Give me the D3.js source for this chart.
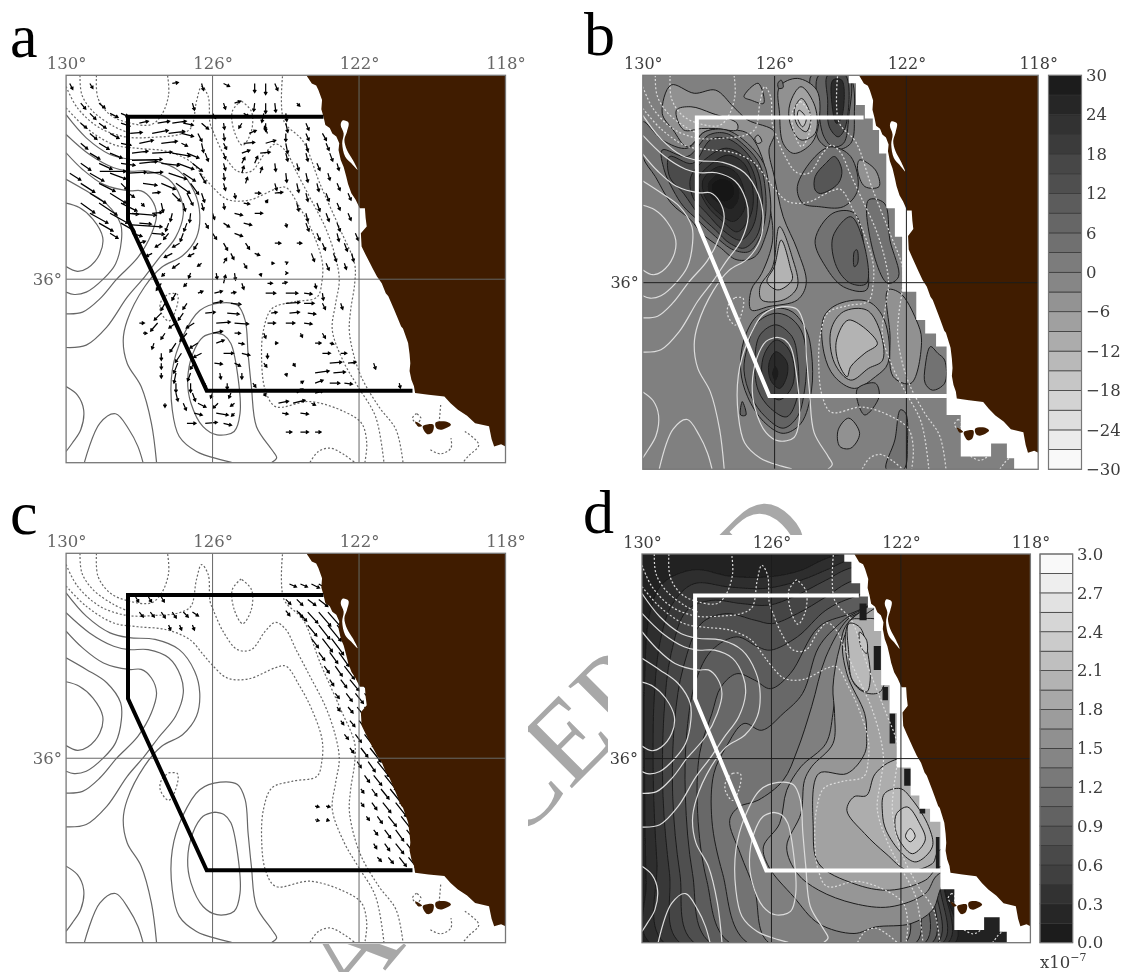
<!DOCTYPE html>
<html>
<head>
<meta charset="utf-8">
<script src="https://cdn.jsdelivr.net/npm/d3@7"></script>
<style>
  body { margin: 0; background: #fff; }
</style>
</head>
<body>
<div id="graph"></div>
<script>
var lonTicks = [130, 126, 122, 118];
var latTicks = [36];
var ticksB = [30, 24, 18, 12, 6, 0, -6, -12, -18, -24, -30];
var ticksD = [3.0, 2.7, 2.4, 2.1, 1.8, 1.5, 1.2, 0.9, 0.6, 0.3, 0.0];

// coast, bay, islands (lon, lat)
var coast = [[123.44,42],[123.29,41.76],[123.17,41.7],[123.11,41.57],[123.01,41.27],[123.03,41.0],[122.97,40.78],[122.92,40.54],[122.8,40.45],[122.73,40.29],[122.62,40.2],[122.54,40.0],[122.56,39.8],[122.5,39.51],[122.42,39.3],[122.35,39.02],[122.3,38.8],[122.21,38.53],[122.1,38.35],[121.98,38.09],[121.84,38.09],[121.82,37.8],[121.79,37.55],[121.95,37.35],[121.93,36.96],[121.82,36.72],[121.7,36.47],[121.62,36.3],[121.51,36.08],[121.38,35.88],[121.27,35.59],[121.2,35.5],[121.04,35.1],[120.98,34.95],[120.85,34.61],[120.8,34.55],[120.66,34.12],[120.62,33.8],[120.6,33.53],[120.62,33.3],[120.57,33.04],[120.5,32.85],[120.47,32.65],[120.1,32.6],[119.67,32.55],[119.5,32.35],[119.3,32.16],[119.05,31.98],[118.83,31.76],[118.45,31.67],[118.38,31.3],[118.31,31.08],[118.12,31.14],[118,31.08],[118,42]];
var bay = [[122.45,40.67],[122.29,40.61],[122.33,40.34],[122.4,40.1],[122.33,39.8],[122.17,39.51],[122.04,39.22],[122.21,39.41],[122.38,39.61],[122.46,40.0],[122.42,40.29],[122.5,40.54]];
var islands = [
  [[120.47,31.81],[120.28,31.69],[120.38,31.66]],
  [[120.26,31.67],[119.97,31.72],[120.0,31.49],[120.14,31.44]],
  [[119.91,31.78],[119.63,31.81],[119.49,31.72],[119.77,31.57],[119.89,31.62]]
];
// study box, it stops at the coast in a and c and at the mask in b and d
var regionLine = [[122.97,40.78],[128.31,40.78],[128.31,37.75],[126.16,32.72],[120.54,32.72]];
var regionMasked = [[123.3,40.78],[128.36,40.78],[128.36,37.75],[126.16,32.72],[120.77,32.72]];
// masked model cells next to the coast in the gray panels
var maskCells = [[123.75,42],[123.75,41.77],[123.53,41.77],[123.53,41.14],[123.26,41.14],[123.26,40.75],[123.02,40.75],[123.02,40.42],[122.83,40.42],[122.83,39.74],[122.61,39.74],[122.61,38.15],[122.35,38.15],[122.35,37.33],[122.13,37.33],[122.13,35.74],[121.7,35.74],[121.7,34.92],[121.43,34.92],[121.43,34.53],[121.1,34.53],[121.1,34.15],[120.78,34.15],[120.78,32.17],[120.35,32.17],[120.35,30.97],[119.43,30.97],[119.43,31.35],[118.95,31.35],[118.95,30.92],[118.73,30.92],[118.73,30.6],[118,30.6],[118,42]];

// SST style contours, the same in all four panels
var solidContours = [
  [[130,38.24],[129.64,38.11],[129.27,37.77],[129.0,37.23],[129.08,36.74],[129.41,36.33],[129.69,36.23],[130,36.37]],
  [[130,38.94],[129.45,38.6],[128.89,38.21],[128.51,37.62],[128.49,37.13],[128.65,36.45],[128.98,36.01],[129.45,35.62],[129.78,35.55],[130,35.62]],
  [[130,39.72],[129.55,39.23],[128.98,38.79],[128.28,38.6],[127.95,38.6],[127.67,38.35],[127.53,37.91],[127.67,37.33],[128.04,36.64],[128.61,36.01],[129.08,35.42],[129.55,35.03],[130,34.98]],
  [[130,40.26],[129.36,39.67],[128.7,39.28],[128.28,39.18],[127.76,39.18],[127.2,38.94],[126.87,38.4],[126.8,37.91],[127.01,37.23],[127.48,36.6],[127.86,36.06],[128.33,35.47],[128.89,34.59],[129.45,34.06],[130,33.99]],
  [[130,40.84],[129.45,40.16],[128.8,39.67],[128.28,39.53],[127.57,39.48],[126.91,39.18],[126.49,38.55],[126.35,37.91],[126.44,37.23],[126.82,36.69],[127.39,36.35],[127.86,35.77],[128.33,34.79],[128.44,34.2],[128.33,33.52],[127.95,32.84],[127.67,31.76],[127.53,30.61]],
  [[125.93,34.42],[126.26,34.3],[126.54,33.81],[126.68,33.03],[126.59,32.35],[126.26,31.66],[125.88,31.42],[125.41,31.52],[125.25,32.05],[125.32,33.23],[125.5,34.11],[125.69,34.35],[125.93,34.42]],
  [[125.48,30.61],[125.79,30.69],[126.44,30.93],[126.91,31.37],[127.1,32.15],[127.1,33.32],[126.82,34.3],[126.35,35.08],[125.79,35.3],[125.32,35.23],[125.11,34.79],[125.03,33.81],[124.94,32.84],[124.8,31.66],[124.38,30.98],[124.25,30.74],[124.38,30.61]],
  [[130,32.84],[129.69,32.59],[129.52,32.15],[129.6,31.57],[129.83,31.18],[130,30.93]],
  [[129.5,30.61],[129.08,31.76],[128.65,32.04],[128.28,31.57],[128.04,31.08],[127.9,30.61]]
];
var dashedContours = [
  [[129.62,42],[129.57,41.43],[129.27,40.94],[128.7,40.5],[128.28,40.3]],
  [[129.17,42],[129.13,41.33],[128.8,40.84],[128.28,40.6],[127.67,40.55],[127.39,40.84],[127.2,41.43],[127.23,42]],
  [[130,41.67],[129.69,41.04],[129.08,40.45],[128.33,40.18],[127.57,40.18],[126.91,40.26],[126.59,40.45],[126.44,41.23],[126.3,41.67],[126.12,41.38],[126.07,40.6],[125.97,40.31],[125.69,39.67],[125.32,39.18],[124.94,39.18],[124.56,39.72],[124.28,39.98],[124.0,39.77],[123.72,39.18],[123.34,38.4],[122.92,37.52],[122.64,36.64],[122.54,35.96],[122.64,35.28],[122.73,34.5],[122.4,33.52],[122.03,32.84],[121.55,31.96],[121.32,30.61]],
  [[130,41.04],[129.45,40.45],[128.7,39.96],[128.04,39.85],[127.29,39.77],[126.63,39.48],[126.26,39.04],[126.02,38.74],[125.6,38.35],[125.03,38.32],[124.28,38.65],[124.0,38.7],[123.62,38.11],[123.29,37.43],[123.01,36.55],[123.01,35.96],[123.15,35.47],[123.81,35.33],[124.38,35.13],[124.61,34.5],[124.66,33.62],[124.56,32.74],[124.28,32.25],[123.34,32.4],[122.4,32.1],[121.93,31.76],[121.79,31.18],[121.84,30.61]],
  [[125.22,41.25],[125.46,40.94],[125.41,40.36],[125.18,39.94],[124.94,40.36],[124.94,40.94],[125.22,41.25]],
  [[124.09,41.97],[124.05,40.65],[123.53,40.06],[123.06,38.79],[122.5,37.43],[122.12,36.45],[122.12,35.86],[122.23,35.08],[122.26,34.4],[121.98,33.23],[121.46,32.25],[120.99,31.57],[120.8,30.61]],
  [[127.2,35.57],[126.96,35.55],[127.01,35.08],[127.2,34.77],[127.43,35.08],[127.39,35.38],[127.2,35.57]],
  [[123.34,30.61],[123.11,30.93],[122.78,31.03],[122.4,30.83],[122.12,30.61]],
  [[120.43,32.05],[120.54,31.91],[120.43,31.76],[120.31,31.91],[120.43,32.05]],
  [[119.77,32.3],[119.81,31.81]],
  [[120.05,30.98],[119.77,30.86],[119.49,31.03],[119.49,31.32]],
  [[119.11,31.52],[118.73,31.13],[119.02,30.79],[119.16,30.61]]
];

// wind/current vectors panel a: lon, lat, u, v
var vectorsA = [
[129.9,41.76,3,-6],[129.35,41.76,3,-5],[127.1,41.76,6,1],[126.3,41.76,2,-7],[125.7,41.76,6,-3],[124.85,41.76,0,-9],[124.55,41.76,0,-11],[124.3,41.76,3,-7],
[129.6,41.18,5,-6],[129.1,41.18,6,-5],[126.55,41.18,2,-7],[125.7,41.18,2,-6],[125.4,41.18,6,2],[124.85,41.18,-1,-8],[124.55,41.18,0,-10],[124.3,41.18,1,-9],[123.7,41.18,3,-3],
[129.35,40.88,6,-6],[128.8,40.88,8,-4],[128.5,40.88,7,-3],[126,40.88,3,-5],[125.15,40.88,5,-3],[124.6,40.88,-2,-9],[124,40.88,1,-8],
[129.6,40.59,6,-5],[129.1,40.59,7,-5],[128.5,40.59,9,-3],[128,40.59,9,2],[127.5,40.59,12,2],[127.1,40.59,14,2],[126.8,40.59,10,-2],[126.3,40.59,7,-6],[125.7,40.59,1,-6],[125.2,40.59,-3,-5],[124.55,40.59,0,-8],[124,40.59,2,-9],[123.45,40.59,3,-7],
[129.35,40.29,7,-6],[128.8,40.29,9,-5],[128.25,40.29,12,1],[127.65,40.29,16,3],[127.2,40.29,16,2],[126.85,40.29,12,-3],[126.4,40.29,4,-8],[125.7,40.29,1,-7],[125,40.29,7,3],[124.5,40.29,-3,7],[124,40.29,0,-8],[123.45,40.29,3,-7],[123,40.29,4,-7],
[129.6,40,7,-6],[129.1,40,10,-6],[128.5,40,10,-2],[128,40,14,3],[127.4,40,16,2],[126.85,40,6,-3],[126.3,40,2,-9],[125.7,40,3,-6],[125.15,40,11,1],[124.55,40,10,3],[124,40,2,-10],[123.45,40,2,-8],[122.9,40,3,-7],
[129.35,39.71,10,-6],[128.8,39.71,12,-5],[128.2,39.71,16,2],[127.65,39.71,20,1],[127.1,39.71,18,-3],[126.7,39.71,12,-5],[126.2,39.71,3,-8],[125.7,39.71,2,-6],[125.2,39.71,8,3],[124.7,39.71,10,1],[124,39.71,2,-8],[123.45,39.71,2,-8],[122.8,39.71,3,-8],
[129.6,39.41,10,-7],[129.1,39.41,13,-6],[128.5,39.41,14,-2],[128,39.41,18,2],[127.4,39.41,18,-2],[126.95,39.41,16,-6],[126.55,39.41,10,-8],[125.7,39.41,2,-7],[125.2,39.41,3,6],[124.85,39.41,3,7],[124.3,39.41,1,-8],[123.7,39.41,2,-7],[123.15,39.41,3,-7],[122.6,39.41,2,-7],
[129.9,39.12,11,-7],[129.35,39.12,14,-8],[128.8,39.12,16,-6],[128.3,39.12,18,1],[127.8,39.12,16,1],[127.2,39.12,18,-6],[126.8,39.12,12,-8],[126.35,39.12,6,-10],[125.7,39.12,1,-7],[125.2,39.12,2,7],[124.7,39.12,2,6],[124,39.12,1,-9],[123.45,39.12,2,-9],[122.85,39.12,2,-7],
[129.6,38.82,14,-9],[129.1,38.82,16,-8],[128.5,38.82,6,-6],[127.9,38.82,14,-2],[127.4,38.82,14,-6],[127,38.82,14,-10],[126.6,38.82,8,-11],[125.7,38.82,2,-7],[125.1,38.82,2,6],[124.3,38.82,2,-7],[123.7,38.82,2,-9],[123.15,38.82,2,-8],[122.6,38.82,3,-7],
[129.35,38.53,16,-10],[128.8,38.53,16,-10],[128.3,38.53,6,-4],[127.65,38.53,8,1],[127.1,38.53,8,-8],[126.7,38.53,6,-12],[126.3,38.53,3,-9],[125.4,38.53,1,-5],[124.85,38.53,6,0],[124.3,38.53,8,1],[123.45,38.53,2,-8],[122.9,38.53,3,-8],[122.3,38.53,3,-7],
[129.6,38.24,14,-10],[129.1,38.24,18,-12],[128.5,38.24,16,-8],[127.95,38.24,3,-3],[127.4,38.24,2,-9],[126.8,38.24,2,-8],[126.3,38.24,2,-7],[125.7,38.24,1,-6],[125.15,38.24,6,-1],[124.55,38.24,2,3],[123.7,38.24,2,-8],[123.15,38.24,3,-8],[122.6,38.24,3,-7],
[129.35,37.94,18,-10],[128.8,37.94,18,-10],[128.3,37.94,10,-1],[127.65,37.94,10,1],[127.1,37.94,-2,-8],[126.6,37.94,-1,-9],[126,37.94,2,-6],[125.4,37.94,8,-2],[124.85,37.94,8,0],[123.45,37.94,2,-8],[122.9,37.94,3,-8],[122.3,37.94,3,-7],
[129.1,37.65,14,-8],[128.5,37.65,14,-8],[128,37.65,12,-1],[127.2,37.65,-3,-8],[126.7,37.65,-3,-8],[126.2,37.65,3,-5],[125.7,37.65,6,-4],[125.15,37.65,8,-2],[124,37.65,1,-4],[123.45,37.65,3,-8],[122.6,37.65,3,-8],
[128.8,37.35,8,-5],[128.2,37.35,10,-3],[127.65,37.35,12,-1],[127.2,37.35,-5,-6],[126.8,37.35,-3,-8],[126,37.35,4,-6],[125.4,37.35,8,-3],[123.15,37.35,3,-7],[122.6,37.35,2,-8],[122.1,37.35,3,-7],
[128,37.06,6,2],[127.4,37.06,-6,-4],[126.9,37.06,-7,-4],[126.4,37.06,-4,-6],[125.7,37.06,4,-7],[125.1,37.06,4,-6],[124.3,37.06,6,0],[123.7,37.06,5,0],[123,37.06,3,-7],[122.4,37.06,3,-8],
[127.65,36.76,-6,-3],[127.1,36.76,-8,-4],[126.5,36.76,-6,-3],[125.5,36.76,3,-6],[124.85,36.76,5,-2],[123.3,36.76,3,-8],[122.7,36.76,3,-8],[122.2,36.76,2,-8],
[126.9,36.47,-7,-5],[126.3,36.47,-4,-3],[125.7,36.47,3,5],[125.15,36.47,3,-5],[124.4,36.47,3,0],[124,36.47,2,1],[122.9,36.47,3,-7],[122.4,36.47,2,-6],
[127.3,36.18,-3,-3],[126.6,36.18,-2,-5],[125.9,36.18,1,-6],[125.4,36.18,1,-7],[124.7,36.18,1,-3],[124,36.18,2,0],
[127.4,35.88,-5,-7],[126.7,35.88,-3,-3],[125.7,35.88,2,8],[125.2,35.88,2,-6],[124.5,35.88,5,0],[124.1,35.88,5,1],[123.2,35.88,1,-5],
[127,35.59,-4,-7],[126.4,35.59,5,2],[125.95,35.59,8,2],[125.5,35.59,5,1],[124.55,35.59,10,0],[124,35.59,12,0],[123.5,35.59,8,-1],[123,35.59,1,-7],
[127.3,35.29,-4,-7],[126.7,35.29,-4,-6],[126,35.29,10,2],[125.5,35.29,10,-1],[124,35.29,14,1],[123.5,35.29,10,0],[123,35.29,3,-6],[122.5,35.29,2,-6],
[127.4,35,-7,-7],[126.8,35,-5,-7],[126.2,35,10,1],[125.6,35,12,-1],[124.4,35,6,1],[123.9,35,10,1],[123.4,35,8,-1],
[128,34.71,5,0],[127.5,34.71,-7,-8],[127,34.71,-7,-5],[126.5,34.71,-8,-5],[125.9,34.71,14,1],[125.4,34.71,14,-1],[124.5,34.71,8,0],[124,34.71,9,0],[123.5,34.71,8,-1],
[127.9,34.41,4,0],[127.3,34.41,-4,-6],[126.7,34.41,-7,-8],[126,34.41,10,2],[125.4,34.41,6,0],[124.6,34.41,2,-5],[123.6,34.41,2,-4],[123,34.41,3,-5],
[127.6,34.12,-2,-6],[127,34.12,-6,-9],[126.4,34.12,-8,-5],[125.9,34.12,8,3],[125.3,34.12,6,-1],[124.3,34.12,3,0],[123.2,34.12,6,0],[122.8,34.12,4,-1],
[127.4,33.82,0,-7],[126.85,33.82,-6,-9],[126.3,33.82,-8,-4],[125.7,33.82,10,0],[125.2,33.82,8,-2],[124.5,33.82,0,-5],[123,33.82,8,0],[122.5,33.82,6,0],
[127.4,33.53,0,-6],[126.95,33.53,-4,-10],[126.5,33.53,-4,-6],[125.95,33.53,8,-1],[125.4,33.53,6,-3],[124.6,33.53,3,-4],[123.8,33.53,2,-3],[122.8,33.53,12,1],[122.3,33.53,8,1],[121.6,33.53,2,-6],
[127.4,33.24,0,-5],[127,33.24,-2,-10],[126.6,33.24,-3,-8],[125.8,33.24,1,-6],[125.2,33.24,0,-6],[124,33.24,1,-3],[123.2,33.24,14,2],[122.7,33.24,12,1],
[127,32.94,0,-9],[126.6,32.94,0,-9],[126.2,32.94,0,-5],[125.6,32.94,0,-6],[124.9,32.94,3,-4],[123.6,32.94,3,2],[123.2,32.94,8,3],[122.8,32.94,10,0],[122.4,32.94,8,-1],[120.9,32.94,1,-5],
[127,32.65,2,-8],[126.55,32.65,3,-8],[126,32.65,-2,-5],[125.5,32.65,-2,-5],[124.6,32.65,2,-3],[123.7,32.65,6,4],[123.2,32.65,8,2],
[127.3,32.35,0,-4],[126.8,32.35,3,-7],[126.4,32.35,8,-4],[125.85,32.35,-5,-5],[125.4,32.35,-4,-3],[124.2,32.35,10,2],[123.8,32.35,12,3],[123.3,32.35,4,-2],
[126.5,32.06,8,-2],[125.9,32.06,12,-2],[125.4,32.06,-3,-3],[124.1,32.06,6,-1],[123.6,32.06,8,-1],
[126.7,31.76,9,0],[126.2,31.76,12,1],[125.7,31.76,8,-2],[124,31.5,6,0],[123.6,31.5,8,0],[123.2,31.5,6,0],
[129.08,39.17,26,0],[128.2,37.94,24,-2],[128.2,37.6,30,-2],[128.2,39.5,30,1]
];

// vectors panel c
var vectorsC = [
[128.1,40.72,3,-5],[127.75,40.72,3,-5],[127.4,40.72,3,-5],[128,40.28,4,-5],[127.7,40.28,4,-5],[127.4,40.28,4,-6],[127.1,40.28,4,-6],[126.8,40.28,5,-5],[126.55,40.28,6,-4],
[127.2,39.9,2,-5],[126.9,39.9,2,-5],[126.55,39.9,2,-5],[124,40.32,4,-5],[123.7,40.32,6,-7],
[123.9,41.1,7,-3],[123.6,41.1,7,-3],[123.3,41.1,8,-4],[123.1,41.1,7,-4],
[124,40.65,5,-5],[123.7,40.65,6,-6],[123.4,40.65,8,-6],[123.1,40.65,9,-7],[122.8,40.65,10,-9],
[123.65,40.28,8,-9],[123.4,40.28,10,-11],[123.1,40.28,12,-14],[122.85,40.28,14,-16],
[123.4,39.9,9,-11],[123.1,39.9,11,-14],[122.85,39.9,13,-16],[122.6,39.9,14,-17],
[123.3,39.5,7,-9],[123,39.5,10,-13],[122.75,39.5,12,-16],[122.5,39.5,14,-18],
[123.1,39.1,6,-8],[122.8,39.1,8,-11],[122.55,39.1,10,-14],[122.35,39.1,14,-18],
[122.95,38.7,5,-7],[122.65,38.7,7,-10],[122.4,38.7,10,-13],[122.2,38.7,12,-15],
[122.8,38.3,4,-6],[122.5,38.3,6,-8],[122.25,38.3,9,-11],[122,38.3,11,-14],
[122.65,37.9,4,-5],[122.35,37.9,6,-8],[122.1,37.9,8,-10],[121.85,37.9,10,-12],
[122.6,37.5,3,-4],[122.3,37.5,5,-6],[122.05,37.5,7,-9],[121.85,37.5,10,-12],
[122.5,37.1,3,-4],[122.25,37.1,5,-6],[122,37.1,8,-10],
[122.4,36.7,4,-5],[122.1,36.7,6,-8],[121.85,36.7,10,-13],
[122.25,36.3,4,-5],[121.95,36.3,7,-9],[121.7,36.3,11,-14],
[122.05,35.9,4,-6],[121.75,35.9,7,-10],[121.5,35.9,12,-15],
[121.85,35.5,5,-7],[121.6,35.5,8,-10],[121.3,35.5,12,-15],
[121.95,35.1,3,-4],[121.65,35.1,5,-7],[121.4,35.1,8,-10],[121.15,35.1,12,-15],
[121.95,34.7,3,-4],[121.65,34.7,5,-7],[121.35,34.7,8,-10],[121,34.7,11,-14],
[121.8,34.3,3,-4],[121.5,34.3,5,-7],[121.2,34.3,8,-10],[120.85,34.3,11,-14],
[121.6,33.9,4,-5],[121.3,33.9,6,-8],[121,33.9,8,-11],[120.7,33.9,11,-14],
[121.6,33.5,3,-5],[121.3,33.5,5,-7],[121,33.5,8,-10],[120.7,33.5,10,-13],[120.52,33.5,9,-6],
[121.5,33.1,4,-4],[121.2,33.1,5,-6],[120.9,33.1,7,-9],[120.65,33.1,9,-11],
[123.2,34.6,4,-1],[122.9,34.6,4,-1],[123.2,34.2,4,-1],[122.9,34.2,3,-1]
];

// filled contours panel b: level, outline
var fieldB = [
[-4,[[129.14,41.72],[128.44,41.48],[127.79,41.57],[127.25,41.09],[126.82,40.71],[126.01,40.37],[126.17,39.84],[126.01,39.07],[125.74,37.91],[125.31,36.95],[125.04,35.98],[125.31,35.5],[126.17,35.31],[126.71,35.21],[126.71,35.79],[126.39,36.27],[126.06,37.23],[126.17,38.39],[126.39,39.65],[126.82,40.32],[127.47,40.42],[128.11,40.37],[128.65,39.93],[129.08,40.42],[129.41,40.9]]],
[-8,[[128.98,40.99],[128.54,41.09],[127.9,40.9],[127.14,40.61],[127.14,40.42],[127.79,40.46],[128.22,40.46],[128.76,40.42]]],
[-8,[[125.85,37.62],[125.47,36.75],[125.31,35.88],[125.74,35.5],[126.39,35.5],[126.44,35.88],[126.06,36.46]]],
[-12,[[125.8,37.23],[125.53,36.46],[125.47,36.08],[125.9,35.79],[126.23,36.03],[126.01,36.46]]],
[4,[[130,40.66],[129.41,40.13],[128.65,39.89],[128.11,40.37],[127.47,40.42],[126.82,40.03],[126.33,39.45],[126.17,38.78],[126.12,38.01],[126.28,37.33],[126.6,36.75],[127.14,36.66],[127.68,37.04],[128.22,37.43],[128.54,37.81],[129.14,38.3],[129.62,39.07],[130,39.65]]],
[10,[[129.41,39.84],[128.65,39.65],[128,40.27],[127.47,40.32],[126.87,39.93],[126.44,39.4],[126.28,38.68],[126.28,37.91],[126.44,37.33],[126.77,36.9],[127.25,36.95],[127.79,37.33],[128.33,37.81],[128.76,38.2],[129.08,38.68],[129.35,39.26]]],
[15,[[129.19,39.65],[128.49,39.45],[127.95,40.13],[127.47,40.18],[126.93,39.84],[126.55,39.31],[126.39,38.63],[126.39,37.91],[126.55,37.33],[126.93,37],[127.36,37.14],[127.79,37.52],[128.33,38.01],[128.76,38.58],[129.19,39.07]]],
[19,[[128.54,39.07],[128,39.65],[127.47,39.89],[126.93,39.65],[126.6,39.07],[126.52,38.3],[126.66,37.62],[127.03,37.23],[127.57,37.52],[128.06,38.01],[128.49,38.49]]],
[22,[[128.33,38.97],[127.9,39.45],[127.41,39.69],[126.93,39.45],[126.69,38.87],[126.66,38.2],[126.82,37.77],[127.14,37.47],[127.57,37.77],[128.06,38.25]]],
[25,[[128.17,38.97],[127.68,39.36],[127.2,39.21],[126.93,38.68],[126.93,38.1],[127.25,37.77],[127.68,38.01],[128.11,38.49]]],
[28,[[128,38.87],[127.63,39.16],[127.2,38.92],[127.09,38.49],[127.3,38.15],[127.68,38.3],[127.95,38.54]]],
[30,[[127.9,38.83],[127.57,39.02],[127.27,38.83],[127.25,38.49],[127.52,38.34],[127.84,38.54]]],
[4,[[125.96,35.26],[126.55,35.02],[126.93,34.34],[127.03,33.47],[126.82,32.7],[126.33,31.98],[125.74,31.64],[125.2,31.93],[124.88,32.89],[124.88,33.96],[125.04,34.63],[125.47,35.16]]],
[8,[[126.01,35.11],[126.55,34.82],[126.82,34.15],[126.93,33.47],[126.71,32.7],[126.28,32.12],[125.74,31.79],[125.31,32.12],[125.09,32.89],[125.04,33.96],[125.2,34.63],[125.58,35.02]]],
[12,[[125.96,34.78],[126.44,34.49],[126.6,33.76],[126.5,32.89],[126.12,32.36],[125.63,32.12],[125.31,32.7],[125.31,33.86],[125.47,34.44]]],
[18,[[125.96,34.34],[126.3,33.96],[126.39,33.38],[126.17,32.8],[125.85,32.61],[125.47,32.99],[125.42,33.67],[125.63,34.15]]],
[24,[[125.96,34],[126.17,33.67],[126.12,33.18],[125.85,32.94],[125.63,33.28],[125.63,33.71]]],
[28,[[125.98,33.57],[126.06,33.38],[125.98,33.18],[125.9,33.38]]],
[4,[[124.88,42],[123.75,42],[123.58,40.8],[123.69,40.03],[124.18,39.84],[124.66,40.13],[124.77,40.99]]],
[8,[[124.66,42],[123.75,42],[123.75,40.8],[123.91,40.03],[124.23,39.93],[124.5,40.22],[124.66,40.99]]],
[15,[[124.39,42],[123.85,42],[123.85,40.51],[124.07,40.22],[124.34,40.51],[124.39,41.28]]],
[24,[[124.23,41.86],[123.96,41.86],[123.96,40.8],[124.12,40.61],[124.25,41.09]]],
[4,[[125.15,38.3],[125.31,38.78],[124.77,39.65],[124.29,39.93],[123.69,39.65],[123.48,38.68],[123.91,38.2],[124.66,38.2]]],
[12,[[124.77,38.68],[124.77,39.07],[124.45,39.45],[124.18,39.65],[123.96,39.26],[124.07,38.87],[124.61,38.58]]],
[4,[[124.77,37.23],[124.23,38.01],[123.58,38.01],[123.26,36.85],[123.21,35.79],[123.91,35.88],[124.45,36.46]]],
[8,[[124.23,37.33],[123.69,37.91],[123.32,37.23],[123.21,35.98],[123.69,35.98],[124.12,36.46]]],
[12,[[123.58,36.9],[123.5,36.95],[123.48,36.56],[123.58,36.46]]],
[-4,[[125.85,41.67],[125.31,41.91],[124.72,41.57],[124.66,40.61],[124.88,40.03],[125.42,39.74],[125.74,40.03],[125.85,40.9]]],
[-8,[[125.53,41.19],[125.2,41.67],[124.77,41.09],[124.77,40.32],[125.2,40.13],[125.53,40.61]]],
[-12,[[125.4,41],[125.18,41.33],[124.9,40.8],[125.04,40.37],[125.31,40.56]]],
[-15,[[125.26,40.99],[125.04,40.75],[125.15,40.51],[125.31,40.79]]],
[-4,[[126.93,41.38],[126.5,41.77],[126.33,41.19],[126.71,41.28]]],
[4,[[125.9,41.77],[125.8,41.86],[125.74,41.65],[125.87,41.62]]],
[-8,[[126.6,40.18],[126.5,40.27],[126.39,40.08],[126.52,40.03]]],
[-4,[[124.5,35.02],[124.02,35.4],[123.15,35.45],[122.67,34.92],[122.56,33.67],[122.94,33.28],[123.58,32.94],[124.18,33.28],[124.5,33.96]]],
[-8,[[124.29,34.63],[123.91,35.16],[123.21,35.21],[122.83,34.68],[122.72,33.76],[123.15,33.52],[123.69,33.18],[124.18,33.67]]],
[-12,[[124.12,34.34],[123.75,34.92],[122.88,34.24],[123.26,33.96],[123.69,33.57],[123.8,33.28],[124.07,33.71]]],
[-4,[[123.42,39.55],[122.94,39.26],[122.83,38.78],[123.26,38.78],[123.48,39.26]]],
[4,[[123.15,38.39],[122.67,38.3],[122.5,37.23],[122.24,36.17],[122.56,35.98],[122.94,36.66]]],
[-4,[[122.56,35.79],[122.18,35.69],[121.7,34.92],[121.54,34.34],[121.86,33.09],[122.4,33.28],[122.5,34.53]]],
[4,[[121.43,33.57],[121.27,34.15],[121.05,33.96],[120.84,33.76],[120.84,33.09],[121.21,32.89],[121.43,33.09]]],
[4,[[123.48,32.94],[122.94,33.09],[122.83,32.7],[123.26,32.17],[123.48,32.56]]],
[-4,[[124.07,31.74],[123.75,32.08],[123.42,31.64],[123.69,31.21],[124.02,31.26]]],
[4,[[122.18,32.32],[122.02,32.22],[121.97,31.35],[122.08,30.6],[122.61,30.6],[122.35,31.45]]],
[8,[[126.98,32.56],[126.87,32.17],[127.03,32.17]]]
];
var baseB = 0;

// filled contours panel d
var baseD = 0.15;
var fieldD = [
[0.3,[[129.76,30.6],[129.87,32.43],[129.92,35.36],[129.92,38.3],[129.76,40.25],[129.37,41.13],[128.39,41.54],[127.29,41.35],[126.08,41.33],[125.09,41.52],[124.43,41.82],[123.78,42],[118,42],[118,32.4],[120.59,32.4],[120.32,30.6]]],
[0.45,[[129.32,30.6],[129.54,33],[129.65,35.36],[129.62,37.81],[129.43,39.47],[129.05,40.55],[128.39,41.13],[127.29,41.03],[126.19,40.99],[125.09,41.23],[124.21,41.57],[123.56,41.82],[118,42],[118,32.4],[120.59,32.6],[120.54,30.6]]],
[0.6,[[128.83,30.6],[129.15,32.63],[129.35,34.88],[129.32,37.32],[129.1,39.08],[128.61,40.35],[127.84,40.64],[126.96,40.55],[126.08,40.5],[125.31,40.75],[124.32,41.23],[123.45,41.62],[118,42],[118,32.6],[120.7,32.6],[120.7,30.6]]],
[0.75,[[128.39,30.6],[128.83,32.63],[129.05,34.88],[128.99,37.12],[128.72,38.69],[128.17,39.96],[127.4,40.25],[126.52,40.06],[125.97,39.96],[125.2,40.25],[124.32,40.74],[123.45,41.23],[118,42],[118,32.8],[120.87,32.8],[120.87,30.6]]],
[0.9,[[127.89,30.6],[128.44,32.63],[128.66,34.88],[128.61,36.83],[128.33,38.3],[127.84,39.18],[127.07,39.57],[126.41,39.27],[126.03,39.18],[125.2,39.57],[124.32,40.35],[123.45,40.74],[118,42],[118,33],[121.03,33],[121.03,30.6]]],
[1.05,[[127.29,30.6],[128,32.43],[128.28,34.39],[128.22,36.15],[127.84,37.32],[127.56,38.1],[127.07,38.49],[126.52,38.3],[126.03,38.05],[125.42,38.49],[124.54,39.86],[123.56,40.25],[118,42],[118,33.2],[121.25,33.2],[121.25,30.6]]],
[1.2,[[126.74,30.6],[127.51,32.63],[127.84,34.19],[127.78,35.56],[127.4,36.34],[126.85,37.03],[126.3,36.83],[125.64,37.32],[125.04,37.91],[124.54,39.27],[123.89,39.96],[123.45,40.25],[118,42],[118,33.4],[121.53,33.4],[121.53,30.6]]],
[1.35,[[126.08,30.6],[126.52,32.14],[126.96,33.21],[127.29,34.19],[127.01,34.58],[126.41,34.78],[125.64,35.36],[125.2,36.25],[124.76,37.52],[124.32,38.98],[123.67,40.06],[123.34,40.25],[118,42],[118,33.6],[121.86,33.6],[121.86,30.6]]],
[1.5,[[125.31,31.94],[124.54,31.16],[123.45,30.87],[122.79,31.06],[121.69,31.16],[121.03,31.55],[120.59,32.43],[118,33],[118,42],[123.34,40.25],[123.67,39.86],[124,38.3],[124.1,37.32],[124.32,36.44],[125.09,35.76],[125.53,35.07],[125.75,34.09],[126.25,33.41],[126.08,32.82]]],
[1.65,[[125.2,32.63],[124.54,32.14],[123.45,31.75],[122.35,31.65],[121.25,32.04],[120.81,32.63],[118,33],[118,42],[123.56,40.06],[123.89,39.27],[124.1,38.1],[124.05,37.32],[124.1,36.44],[124.76,35.76],[124.98,35.36],[125.09,34.39],[125.53,33.41]]],
[1.8,[[124.54,32.92],[123.45,32.33],[122.35,32.14],[121.25,32.43],[120.81,32.82],[118,33.2],[118,42],[123.34,40.06],[123.78,39.47],[123.67,38.49],[123.12,37.32],[123.06,36.73],[123.12,36.15],[123.67,35.56],[124.54,35.56],[124.71,34]]],
[1.95,[[123.67,34.48],[123.12,33.8],[122.46,33.21],[121.8,32.73],[121.03,32.92],[120.81,33.31],[118,33.9],[118,36],[122.07,36],[122.79,35.56],[123.06,34.92],[123.45,34.88]]],
[1.95,[[123.72,39.57],[123.56,40.06],[123.28,40.1],[122.6,40],[122.6,38],[123.01,37.91],[123.45,38.2]]],
[2.1,[[123.61,39.96],[123.28,39.86],[123.06,39.27],[122.95,38.3],[123.06,37.96],[123.5,38.3],[123.61,39.08]]],
[2.25,[[123.28,39.71],[123.06,39.47],[123.06,39.08],[123.23,39.27]]],
[2.1,[[122.51,34.97],[122.02,35.12],[121.64,34.78],[121.14,34],[121.03,33.41],[121.53,32.97],[121.96,33.21],[122.46,33.9],[122.57,34.39]]],
[2.25,[[122.13,34.39],[121.8,34.58],[121.42,34.09],[121.25,33.61],[121.64,33.21],[122.02,33.56],[122.18,34]]],
[2.4,[[121.71,33.95],[121.56,33.72],[121.71,33.56],[121.86,33.72]]]
];
// very low values packed against the masked cells in panel d
var coastCellsD = [
[[122.84,39.3],[122.62,39.3],[122.62,38.6],[122.84,38.6]],
[[123.28,40.55],[123.06,40.55],[123.06,40.06],[123.28,40.06]],
[[122.57,38.1],[122.4,38.1],[122.4,37.71],[122.57,37.71]],
[[122.35,37.32],[122.18,37.32],[122.18,36.44],[122.35,36.44]],
[[122.07,36.15],[121.96,36.15],[121.96,35.76],[122.07,35.76]],
[[121.9,35.7],[121.69,35.7],[121.69,35.2],[121.9,35.2]],
[[121.42,34.58],[121.25,34.58],[121.25,34.39],[121.42,34.39]],
[[120.92,33.7],[120.81,33.7],[120.81,32.77],[120.92,32.77]]
];

var panels = [
  {id:'a', box:[66.1,505.5,75.3,462.7], letter:[10,57], light:true},
  {id:'b', box:[642.8,1038.2,75.3,469.3], letter:[584,55], light:false, bar:[1048.5,1081.5,1086]},
  {id:'c', box:[66.1,505.5,553.3,942.7], letter:[10,534], light:true},
  {id:'d', box:[642,1030.4,554,942.7], letter:[583,533], light:false, bar:[1040,1072.7,1077]}
];

var svg = d3.select('#graph').append('svg')
  .attr('width', 1127).attr('height', 972);

var defs = svg.append('defs');
defs.append('filter').attr('id', 'soft')
  .append('feGaussianBlur').attr('stdDeviation', 0.55);

// watermark goes first, the figure boxes sit on top of it
svg.append('text')
  .attr('transform', 'translate(352,1010) rotate(-50)')
  .attr('font-family', '"Liberation Serif"')
  .attr('font-size', 118)
  .attr('fill', '#a8a8a8')
  .text('A');
svg.append('text')
  .attr('transform', 'translate(462,898) rotate(-45)')
  .attr('font-family', '"Liberation Serif"')
  .attr('font-size', 114)
  .attr('fill', '#a8a8a8')
  .text('CCEPTED');
svg.append('rect').attr('x', 0).attr('y', 0).attr('width', 1127).attr('height', 488).attr('fill', '#fff');
svg.append('rect').attr('x', 0).attr('y', 488).attr('width', 528).attr('height', 456).attr('fill', '#fff');
svg.append('rect').attr('x', 608).attr('y', 535).attr('width', 519).attr('height', 437).attr('fill', '#fff');

var colorB = d3.scaleLinear().domain([-30, 0, 30]).range(['#ffffff', '#808080', '#161616']).clamp(true);
var colorD = d3.scaleLinear().domain([0, 3]).range(['#161616', '#ffffff']);

panels.forEach(function(p) {
  draw_panel(p);
});

function draw_panel(p) {
  var xscale = d3.scaleLinear().domain([130, 118]).range([p.box[0], p.box[1]]);
  var yscale = d3.scaleLinear().domain([30.6, 42]).range([p.box[3], p.box[2]]);
  var g = svg.append('g').attr('filter', 'url(#soft)');

  var clipId = 'clip' + p.id;
  defs.append('clipPath').attr('id', clipId).append('rect')
    .attr('x', p.box[0]).attr('y', p.box[2])
    .attr('width', p.box[1] - p.box[0]).attr('height', p.box[3] - p.box[2]);
  var map = g.append('g').attr('clip-path', 'url(#' + clipId + ')');

  var smooth = d3.line()
    .x(function(d) { return xscale(d[0]); })
    .y(function(d) { return yscale(d[1]); })
    .curve(d3.curveCatmullRom);
  var smoothClosed = d3.line()
    .x(function(d) { return xscale(d[0]); })
    .y(function(d) { return yscale(d[1]); })
    .curve(d3.curveCatmullRomClosed);
  var plain = d3.line()
    .x(function(d) { return xscale(d[0]); })
    .y(function(d) { return yscale(d[1]); });

  var gray = p.id == 'b' || p.id == 'd';
  var color = p.id == 'b' ? colorB : colorD;
  var field = p.id == 'b' ? fieldB : fieldD;
  var base = p.id == 'b' ? baseB : baseD;

  map.append('rect')
    .attr('x', p.box[0]).attr('y', p.box[2])
    .attr('width', p.box[1] - p.box[0]).attr('height', p.box[3] - p.box[2])
    .attr('fill', gray ? color(base) : '#fff');

  if (gray) {
    map.selectAll('.level')
      .data(field)
      .enter().append('path')
      .attr('d', function(d) { return smoothClosed(d[1]); })
      .attr('fill', function(d) { return color(d[0]); })
      .attr('stroke', '#1c1c1c')
      .attr('stroke-width', 1);
    if (p.id == 'd') {
      map.selectAll('.cell')
        .data(coastCellsD)
        .enter().append('path')
        .attr('d', function(d) { return plain(d) + 'Z'; })
        .attr('fill', color(0.1));
    }
  }

  // contours, gray on the white panels, white on the filled ones
  var lineColor = gray ? '#dcdcdc' : '#666';
  map.selectAll('.solid')
    .data(solidContours)
    .enter().append('path')
    .attr('d', smooth)
    .attr('fill', 'none')
    .attr('stroke', lineColor)
    .attr('stroke-width', 1.2);
  map.selectAll('.dashed')
    .data(dashedContours)
    .enter().append('path')
    .attr('d', smooth)
    .attr('fill', 'none')
    .attr('stroke', lineColor)
    .attr('stroke-width', 1.2)
    .attr('stroke-dasharray', '2,2');

  if (!gray) {
    var vectors = p.id == 'a' ? vectorsA : vectorsC;
    map.selectAll('.vec')
      .data(vectors)
      .enter().append('path')
      .attr('d', function(d) { return arrow_path(xscale(d[0]), yscale(d[1]), d[2], -d[3]); })
      .attr('fill', 'none')
      .attr('stroke', '#000')
      .attr('stroke-width', 1.25);
  }

  if (gray) {
    map.append('path')
      .attr('d', plain(maskCells) + 'Z')
      .attr('fill', '#fff');
  }
  map.append('path')
    .attr('d', plain(coast) + 'Z')
    .attr('fill', '#3f1e00');
  map.append('path')
    .attr('d', smoothClosed(bay))
    .attr('fill', '#fff');
  map.selectAll('.island')
    .data(islands)
    .enter().append('path')
    .attr('d', function(d) { return smoothClosed(d); })
    .attr('fill', '#3f1e00');

  // graticule
  var gridColor = gray ? '#1e1e1e' : '#666';
  [126, 122].forEach(function(lon) {
    map.append('line')
      .attr('x1', xscale(lon)).attr('x2', xscale(lon))
      .attr('y1', p.box[2]).attr('y2', p.box[3])
      .attr('stroke', gridColor).attr('stroke-width', 1);
  });
  map.selectAll('.lat')
    .data(latTicks)
    .enter().append('line')
    .attr('x1', p.box[0]).attr('x2', p.box[1])
    .attr('y1', function(d) { return yscale(d); })
    .attr('y2', function(d) { return yscale(d); })
    .attr('stroke', gridColor).attr('stroke-width', 1);

  map.append('path')
    .attr('d', plain(gray ? regionMasked : regionLine))
    .attr('fill', 'none')
    .attr('stroke', gray ? '#fff' : '#000')
    .attr('stroke-width', 4)
    .attr('stroke-linejoin', 'miter');

  g.append('rect')
    .attr('x', p.box[0]).attr('y', p.box[2])
    .attr('width', p.box[1] - p.box[0]).attr('height', p.box[3] - p.box[2])
    .attr('fill', 'none')
    .attr('stroke', '#777')
    .attr('stroke-width', 1.3);

  var fontSize = p.light ? 16.5 : 16;
  var tickColor = p.light ? '#666' : '#3c3c3c';

  var topAxis = g.append('g')
    .attr('transform', 'translate(0,' + (p.box[2] - 6) + ')')
    .call(d3.axisTop(xscale).tickValues(lonTicks).tickSize(0).tickPadding(0)
      .tickFormat(function(d) { return d + '°'; }));
  var leftAxis = g.append('g')
    .attr('transform', 'translate(' + (p.box[0] - 4) + ',0)')
    .call(d3.axisLeft(yscale).tickValues(latTicks).tickSize(0).tickPadding(0)
      .tickFormat(function(d) { return d + '°'; }));
  [topAxis, leftAxis].forEach(function(ax) {
    ax.select('.domain').remove();
    ax.selectAll('text')
      .attr('font-family', '"DejaVu Serif"')
      .attr('font-size', fontSize)
      .attr('fill', tickColor);
  });

  if (p.bar) {
    draw_colorbar(g, p);
  }

  svg.append('text')
    .attr('x', p.letter[0])
    .attr('y', p.letter[1])
    .attr('font-family', '"Liberation Serif"')
    .attr('font-size', 62)
    .attr('fill', '#000')
    .text(p.id);
}

function arrow_path(x, y, dx, dy) {
  var len = Math.sqrt(dx * dx + dy * dy);
  var ux = dx / len, uy = dy / len;
  var hx = x + dx, hy = y + dy;
  var s = 2.6;
  return 'M' + x + ',' + y + 'L' + hx + ',' + hy
    + 'M' + (hx - ux * s - uy * s * 0.6) + ',' + (hy - uy * s + ux * s * 0.6)
    + 'L' + hx + ',' + hy
    + 'L' + (hx - ux * s + uy * s * 0.6) + ',' + (hy - uy * s - ux * s * 0.6);
}

function draw_colorbar(g, p) {
  var isB = p.id == 'b';
  var top = isB ? 30 : 3, bottom = isB ? -30 : 0;
  var step = isB ? 3 : 0.15;
  var yscale = d3.scaleLinear().domain([bottom, top]).range([p.box[3], p.box[2]]);
  var color = isB ? colorB : colorD;
  var cells = d3.range(20).map(function(i) { return bottom + i * step; });

  g.selectAll('.cell' + p.id)
    .data(cells)
    .enter().append('rect')
    .attr('x', p.bar[0])
    .attr('y', function(d) { return yscale(d + step); })
    .attr('width', p.bar[1] - p.bar[0])
    .attr('height', function(d) { return yscale(d) - yscale(d + step); })
    .attr('fill', function(d) { return color(d + step / 2); })
    .attr('stroke', '#333')
    .attr('stroke-width', 0.7);
  g.append('rect')
    .attr('x', p.bar[0]).attr('y', p.box[2])
    .attr('width', p.bar[1] - p.bar[0]).attr('height', p.box[3] - p.box[2])
    .attr('fill', 'none').attr('stroke', '#777').attr('stroke-width', 1.2);

  var axis = g.append('g')
    .attr('transform', 'translate(' + p.bar[2] + ',0)')
    .call(d3.axisRight(yscale)
      .tickValues(isB ? ticksB : ticksD)
      .tickSize(0).tickPadding(0)
      .tickFormat(function(d) {
        return isB ? String(d).replace('-', '−') : d.toFixed(1);
      }));
  axis.select('.domain').remove();
  axis.selectAll('text')
    .attr('font-family', '"DejaVu Serif"')
    .attr('font-size', 16.5)
    .attr('fill', '#3c3c3c');

  if (!isB) {
    var t = g.append('text')
      .attr('x', 1040).attr('y', 968)
      .attr('font-family', '"DejaVu Serif"')
      .attr('font-size', 16.5)
      .attr('fill', '#3c3c3c')
      .text('x10');
    t.append('tspan').attr('dy', -7).attr('font-size', 11).text('−7');
  }
}
</script>
</body>
</html>
